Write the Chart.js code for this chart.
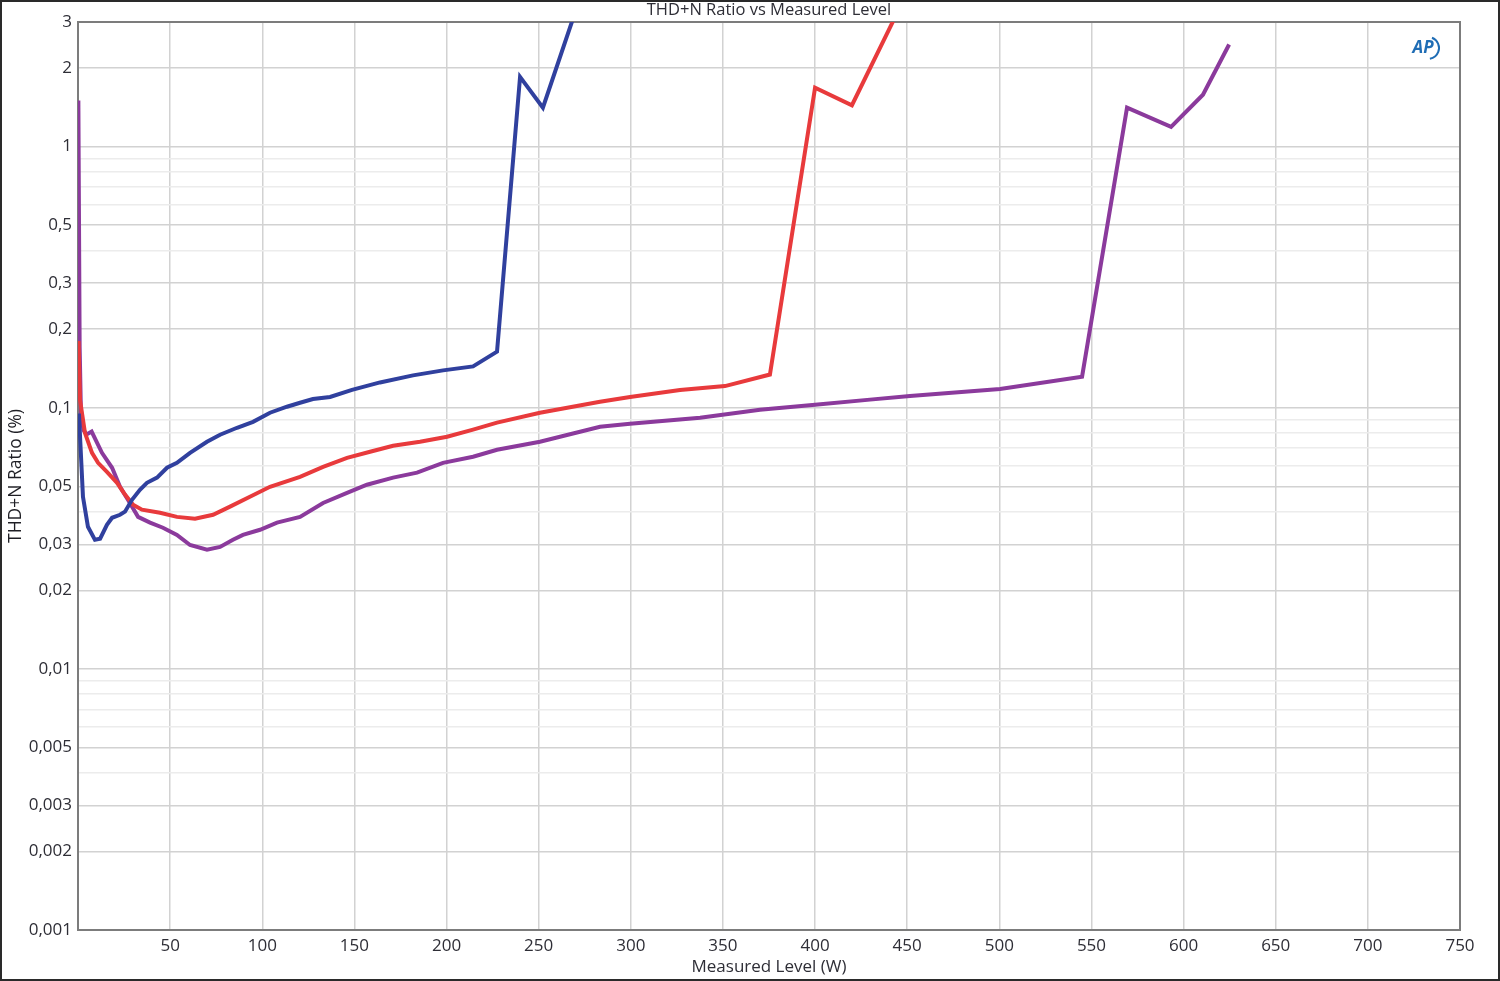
<!DOCTYPE html>
<html>
<head>
<meta charset="utf-8">
<script src="https://cdn.jsdelivr.net/npm/chart.js@4/dist/chart.umd.min.js"></script>
<style>
  html, body { margin: 0; padding: 0; background: #fff; }
  #wrap { width: 1500px; height: 981px; }
</style>
</head>
<body>
<div id="wrap"><canvas id="myChart"></canvas></div>
<script>
// titles
const chartTitle = 'THD+N Ratio vs Measured Level';
const xTitle = 'Measured Level (W)';
const yTitle = 'THD+N Ratio (%)';

// y axis labels (log scale), the rest of the 1..9 steps only get a light grid line
const yTickLabels = [0.001, 0.002, 0.003, 0.005, 0.01, 0.02, 0.03, 0.05, 0.1, 0.2, 0.3, 0.5, 1, 2, 3];

// blue curve
const blueX = [0.5, 2.7, 5.4, 9.2, 12.0, 15.7, 18.5, 22.8, 25.5, 29.3, 33.6, 37.4, 42.9, 48.3, 53.7, 60.8, 70.0, 77.1, 86.3, 95.0, 104.2, 113.4, 120.5, 127.5, 136.8, 148.7, 163.9, 181.8, 198.1, 214.4, 227.4, 239.9, 252.3, 270];
const blueY = [0.095, 0.0456, 0.035, 0.0312, 0.0315, 0.0356, 0.0379, 0.0389, 0.040, 0.0444, 0.0485, 0.0516, 0.054, 0.0589, 0.0615, 0.0672, 0.0741, 0.0788, 0.0838, 0.0883, 0.0957, 0.1009, 0.1045, 0.108, 0.110, 0.117, 0.125, 0.133, 0.139, 0.144, 0.164, 1.85, 1.41, 3.3];

// red curve
const redX = [0.3, 1.1, 3.8, 7.6, 10.9, 15.7, 21.2, 25.5, 29.9, 34.7, 44.5, 53.7, 63.5, 73.3, 82.5, 93.3, 104.2, 120.5, 133.0, 146.0, 158.5, 171.0, 185.6, 200.3, 214.4, 227.4, 250.7, 283.3, 299.6, 326.7, 351.1, 375.5, 400.0, 420.0, 445];
const redY = [0.18, 0.107, 0.080, 0.0672, 0.0615, 0.0568, 0.0516, 0.0465, 0.0425, 0.0407, 0.0396, 0.0382, 0.0376, 0.0389, 0.0418, 0.0456, 0.0498, 0.0544, 0.0594, 0.0643, 0.0678, 0.0715, 0.0741, 0.0774, 0.0824, 0.0877, 0.0957, 0.1054, 0.110, 0.117, 0.121, 0.134, 1.68, 1.44, 3.3];

// purple curve
const purpleX = [0.2, 0.9, 1.6, 3.0, 4.7, 7.4, 13.0, 18.5, 22.8, 27.1, 32.6, 39.1, 46.1, 53.7, 60.8, 70.0, 77.1, 84.1, 89.5, 98.8, 108.0, 120.5, 133.0, 146.0, 156.8, 171.0, 184.0, 198.1, 214.4, 227.4, 250.7, 283.3, 299.6, 337.6, 370.1, 400.0, 429.8, 451.5, 500.4, 544.9, 569.3, 593.2, 610.5, 624.7];
const purpleY = [1.5, 0.17, 0.095, 0.082, 0.079, 0.081, 0.0672, 0.0589, 0.0498, 0.0444, 0.0382, 0.0363, 0.0347, 0.0326, 0.0298, 0.0286, 0.0293, 0.0312, 0.0326, 0.0341, 0.0363, 0.0382, 0.0432, 0.0472, 0.0507, 0.054, 0.0564, 0.0615, 0.0649, 0.069, 0.0741, 0.0846, 0.0869, 0.0916, 0.0983, 0.1026, 0.1074, 0.111, 0.118, 0.1315, 1.41, 1.19, 1.58, 2.46];

const toPoints = (xs, ys) => xs.map((x, i) => ({ x: x, y: ys[i] }));

// alla steg 1..9 per dekad för rutnätet
let yGrid = [];
for (let e = -3; e <= 0; e++) {
    for (let m = 1; m <= 9; m++) {
        let v = Number((m * Math.pow(10, e)).toPrecision(3));
        if (v <= 3) yGrid.push(v);
    }
}
const isLabeled = (v) => yTickLabels.some((t) => Math.abs(t - v) / t < 1e-6);

const fontName = '"Open Sans", sans-serif';
const textColor = '#2e2e36';

const decorPlugin = {
    id: 'decor',
    beforeDatasetsDraw(chart) {
        const { ctx, chartArea: a } = chart;
        ctx.save();
        ctx.strokeStyle = '#7c7c7c';
        ctx.lineWidth = 2;
        ctx.strokeRect(a.left, a.top, a.right - a.left, a.bottom - a.top);
        ctx.restore();
    },
    afterDraw(chart) {
        const { ctx, chartArea: a } = chart;
        ctx.save();
        // title over the plot area
        ctx.fillStyle = textColor;
        ctx.font = '16.5px ' + fontName;
        ctx.textAlign = 'center';
        ctx.textBaseline = 'middle';
        ctx.fillText(chartTitle, (a.left + a.right) / 2, 10);
        // AP logo
        ctx.fillStyle = '#1f6db5';
        ctx.font = 'italic bold 17px ' + fontName;
        ctx.fillText('AP', 1423, 48);
        ctx.strokeStyle = '#1f6db5';
        ctx.lineWidth = 2;
        ctx.beginPath();
        ctx.arc(1428, 48, 11, -1.2, 1.4);
        ctx.stroke();
        // outer frame of the picture
        ctx.strokeStyle = '#2a2a2a';
        ctx.lineWidth = 2;
        ctx.strokeRect(1, 1, chart.width - 2, chart.height - 2);
        ctx.restore();
    }
};

const config = {
    type: 'line',
    data: {
        datasets: [
            { data: toPoints(blueX, blueY), borderColor: '#30409e' },
            { data: toPoints(redX, redY), borderColor: '#e83a3c' },
            { data: toPoints(purpleX, purpleY), borderColor: '#8b3a9c' }
        ]
    },
    options: {
        responsive: true,
        maintainAspectRatio: false,
        animation: false,
        parsing: false,
        layout: { padding: { left: 2, right: 40, top: 22, bottom: 0 } },
        elements: {
            line: { borderWidth: 4, tension: 0, fill: false },
            point: { radius: 0 }
        },
        plugins: {
            legend: { display: false },
            tooltip: { enabled: false }
        },
        scales: {
            x: {
                type: 'linear',
                min: 0,
                max: 750,
                afterFit: (scale) => { scale.height = 51; },
                border: { display: true, color: '#7c7c7c', width: 2 },
                grid: { color: '#d2d2d2', lineWidth: 1.5, drawTicks: false },
                ticks: {
                    stepSize: 50,
                    padding: 6,
                    color: textColor,
                    font: { family: fontName, size: 17 },
                    maxRotation: 0,
                    autoSkip: false,
                    callback: (v) => (v === 0 ? '' : v)
                },
                title: {
                    display: true,
                    text: xTitle,
                    color: textColor,
                    font: { family: fontName, size: 17 },
                    padding: { top: 0, bottom: 4 }
                }
            },
            y: {
                type: 'logarithmic',
                min: 0.001,
                max: 3,
                afterFit: (scale) => { scale.width = 76; },
                afterBuildTicks: (scale) => {
                    scale.ticks = yGrid.map((v) => ({ value: v }));
                },
                border: { display: true, color: '#7c7c7c', width: 2 },
                grid: {
                    drawTicks: false,
                    lineWidth: 1.5,
                    color: (ctx) => (ctx.tick && isLabeled(ctx.tick.value) ? '#d2d2d2' : '#ececec')
                },
                ticks: {
                    padding: 6,
                    autoSkip: false,
                    color: textColor,
                    font: { family: fontName, size: 17 },
                    callback: (v) => (isLabeled(v) ? String(v).replace('.', ',') : '')
                },
                title: {
                    display: true,
                    text: yTitle,
                    color: '#1e1e24',
                    font: { family: fontName, size: 17.5 },
                    padding: { top: 4, bottom: 0 }
                }
            }
        }
    },
    plugins: [decorPlugin]
};

new Chart(document.getElementById('myChart'), config);
</script>
</body>
</html>
